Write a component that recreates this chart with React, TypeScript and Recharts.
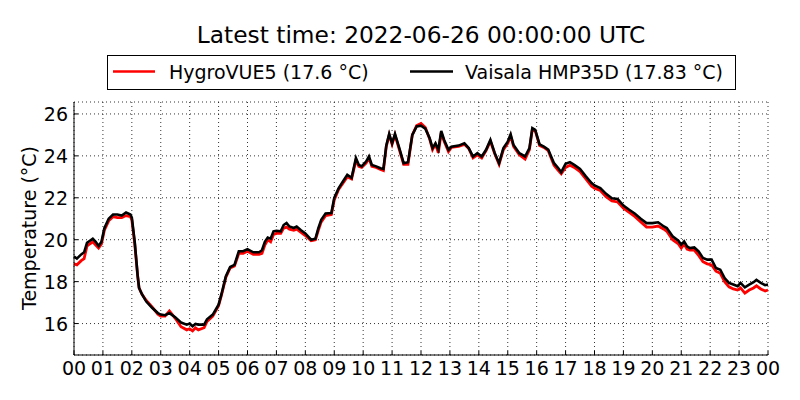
import { CartesianGrid, Line, LineChart, XAxis, YAxis } from "recharts";

// hours since 00 UTC
const hours = [
  0.0, 0.1, 0.25, 0.35, 0.45, 0.5, 0.65, 0.75, 0.85, 0.95,
  1.05, 1.2, 1.35, 1.5, 1.65, 1.8, 1.95, 2.0, 2.1, 2.2,
  2.25, 2.35, 2.5, 2.7, 2.9, 3.0, 3.15, 3.3, 3.5, 3.7,
  3.9, 4.0, 4.1, 4.2, 4.3, 4.5, 4.6, 4.8, 5.0, 5.1,
  5.25, 5.4, 5.55, 5.7, 5.85, 6.0, 6.2, 6.4, 6.5, 6.6,
  6.7, 6.8, 6.9, 7.0, 7.15, 7.25, 7.35, 7.45, 7.6, 7.7,
  7.85, 8.0, 8.2, 8.35, 8.45, 8.55, 8.7, 8.9, 9.0, 9.15,
  9.3, 9.45, 9.6, 9.75, 9.85, 9.95, 10.1, 10.2, 10.3, 10.45,
  10.6, 10.7, 10.8, 10.9, 11.0, 11.1, 11.25, 11.4, 11.55, 11.7,
  11.85, 12.0, 12.15, 12.3, 12.4, 12.5, 12.6, 12.7, 12.8, 12.95,
  13.05, 13.3, 13.5, 13.65, 13.8, 13.95, 14.1, 14.25, 14.4, 14.55,
  14.7, 14.85, 15.0, 15.1, 15.2, 15.4, 15.6, 15.75, 15.85, 15.95,
  16.1, 16.25, 16.4, 16.5, 16.6, 16.75, 16.85, 17.0, 17.15, 17.3,
  17.5, 17.7, 17.9, 18.0, 18.2, 18.4, 18.6, 18.8, 19.0, 19.2,
  19.4, 19.6, 19.8, 20.0, 20.2, 20.4, 20.5, 20.7, 20.9, 21.0,
  21.1, 21.2, 21.3, 21.45, 21.6, 21.75, 21.9, 22.05, 22.2, 22.35,
  22.5, 22.65, 22.8, 22.95, 23.05, 23.2, 23.35, 23.5, 23.6, 23.75,
  23.9, 24.0,
];

const hygroVUE5 = [
  18.85, 18.8, 19.0, 19.1, 19.7, 19.75, 19.9, 19.75, 19.6, 19.8,
  20.45, 20.9, 21.1, 21.05, 21.05, 21.15, 21.1, 20.95, 19.8, 18.3,
  17.7, 17.4, 17.1, 16.8, 16.45, 16.35, 16.35, 16.6, 16.25, 15.85,
  15.7, 15.75, 15.65, 15.8, 15.7, 15.8, 16.1, 16.35, 16.85, 17.35,
  18.2, 18.65, 18.75, 19.35, 19.35, 19.45, 19.3, 19.3, 19.35, 19.75,
  20.0, 19.9, 20.25, 20.3, 20.3, 20.55, 20.6, 20.5, 20.45, 20.5,
  20.35, 20.2, 19.95, 20.0, 20.45, 20.85, 21.15, 21.2, 21.9, 22.4,
  22.7, 23.0, 22.9, 23.8, 23.5, 23.45, 23.65, 23.9, 23.5, 23.45,
  23.35, 23.3, 24.45, 25.0, 24.55, 25.0, 24.3, 23.6, 23.6, 25.0,
  25.45, 25.55, 25.35, 24.8, 24.3, 24.55, 24.15, 25.1, 24.7, 24.2,
  24.4, 24.45, 24.55, 24.35, 23.9, 24.05, 23.9, 24.25, 24.7, 24.1,
  23.6, 24.3, 24.6, 24.95, 24.45, 24.05, 23.85, 24.3, 25.25, 25.2,
  24.5, 24.4, 24.25, 23.9, 23.55, 23.3, 23.15, 23.45, 23.55, 23.45,
  23.25, 22.9, 22.55, 22.45, 22.35, 22.05, 21.85, 21.8, 21.5, 21.3,
  21.1, 20.85, 20.6, 20.6, 20.65, 20.5, 20.4, 20.0, 19.8, 19.6,
  19.8, 19.55, 19.5, 19.5, 19.25, 18.95, 18.85, 18.8, 18.5, 18.4,
  18.0, 17.75, 17.65, 17.6, 17.7, 17.45, 17.6, 17.7, 17.8, 17.65,
  17.55, 17.6,
];

const vaisalaHMP35D = [
  19.2, 19.1, 19.3, 19.4, 19.85, 19.9, 20.05, 19.9, 19.7, 19.9,
  20.55, 21.0, 21.2, 21.2, 21.15, 21.3, 21.2, 21.05, 19.9, 18.3,
  17.7, 17.4, 17.05, 16.75, 16.5, 16.43, 16.4, 16.5, 16.3, 16.05,
  15.95, 16.0, 15.87, 15.98, 15.95, 15.95, 16.2, 16.43, 16.9, 17.4,
  18.25, 18.7, 18.8, 19.45, 19.45, 19.55, 19.4, 19.4, 19.5, 19.9,
  20.1, 20.05, 20.4, 20.43, 20.4, 20.7, 20.8, 20.63, 20.56, 20.63,
  20.45, 20.3, 20.0, 20.05, 20.55, 20.95, 21.25, 21.27, 22.0, 22.45,
  22.78, 23.1, 22.95, 23.9, 23.57, 23.5, 23.73, 23.97, 23.57, 23.5,
  23.41, 23.38, 24.5, 25.05, 24.6, 25.05, 24.37, 23.65, 23.7, 25.0,
  25.4, 25.44, 25.3, 24.84, 24.37, 24.6, 24.29, 25.19, 24.76, 24.29,
  24.44, 24.49, 24.6, 24.37, 23.97, 24.13, 23.97, 24.29, 24.76, 24.13,
  23.65, 24.37, 24.68, 25.03, 24.52, 24.13, 23.97, 24.37, 25.32, 25.24,
  24.55, 24.44, 24.3, 23.97, 23.65, 23.41, 23.22, 23.62, 23.7, 23.57,
  23.38, 23.02, 22.7, 22.59, 22.46, 22.19, 21.98, 21.94, 21.63, 21.43,
  21.24, 21.0, 20.79, 20.79, 20.83, 20.63, 20.56, 20.16, 19.95, 19.76,
  19.92, 19.68, 19.6, 19.63, 19.44, 19.13, 19.05, 19.05, 18.65, 18.57,
  18.17, 17.94, 17.86, 17.78, 17.94, 17.73, 17.86, 17.97, 18.08, 17.94,
  17.83, 17.86,
];

const hourTicks = [
  0, 1, 2, 3, 4, 5, 6, 7, 8, 9, 10, 11, 12,
  13, 14, 15, 16, 17, 18, 19, 20, 21, 22, 23, 24,
];
const hourLabels = [
  "00", "01", "02", "03", "04", "05", "06", "07", "08", "09", "10", "11", "12",
  "13", "14", "15", "16", "17", "18", "19", "20", "21", "22", "23", "00",
];
const tempTicks = [16, 18, 20, 22, 24, 26];

const title = "Latest time: 2022-06-26 00:00:00 UTC";
const seriesNames = ["HygroVUE5 (17.6 °C)", "Vaisala HMP35D (17.83 °C)"];

const rows = hours.map((h, i) => ({
  h,
  hygro: hygroVUE5[i],
  vaisala: vaisalaHMP35D[i],
}));

const FONT = "DejaVu Sans";

function BottomTick({ x, y, payload }: any) {
  const idx = hourTicks.indexOf(payload.value);
  return (
    <g>
      <line x1={x} x2={x} y1={y} y2={y - 4} stroke="#000" />
      <text x={x} y={y + 20} textAnchor="middle" fontSize={19} fontFamily={FONT} fill="#000">
        {hourLabels[idx]}
      </text>
    </g>
  );
}

function TopTick({ x, y }: any) {
  return <line x1={x} x2={x} y1={y} y2={y + 4} stroke="#000" />;
}

function LeftTick({ x, y, payload }: any) {
  return (
    <g>
      <line x1={x} x2={x + 4} y1={y} y2={y} stroke="#000" />
      <text x={x - 6} y={y + 7} textAnchor="end" fontSize={19} fontFamily={FONT} fill="#000">
        {payload.value}
      </text>
    </g>
  );
}

function RightTick({ x, y }: any) {
  return <line x1={x} x2={x - 4} y1={y} y2={y} stroke="#000" />;
}

export default function App() {
  return (
    <div style={{ position: "absolute", left: 0, top: 0, width: 800, height: 400, background: "#fff" }}>
      <LineChart
        width={800}
        height={400}
        data={rows}
        margin={{ top: 102, right: 32, bottom: 0, left: 0 }}
      >
        <CartesianGrid stroke="#000" strokeWidth={0.8} strokeDasharray="1 3" />
        <XAxis
          dataKey="h"
          type="number"
          domain={[0, 24]}
          ticks={hourTicks}
          interval={0}
          height={45}
          tickSize={0}
          tickMargin={0}
          axisLine={{ stroke: "#000" }}
          tick={<BottomTick />}
        />
        <XAxis
          xAxisId="t"
          dataKey="h"
          type="number"
          orientation="top"
          domain={[0, 24]}
          ticks={hourTicks}
          interval={0}
          height={0}
          tickSize={0}
          tickMargin={0}
          axisLine={{ stroke: "#000" }}
          tick={<TopTick />}
        />
        <YAxis
          type="number"
          domain={[14.5, 26.57]}
          ticks={tempTicks}
          interval={0}
          allowDataOverflow
          width={74}
          tickSize={0}
          tickMargin={0}
          axisLine={{ stroke: "#000" }}
          tick={<LeftTick />}
        />
        <YAxis
          yAxisId="r"
          type="number"
          orientation="right"
          domain={[14.5, 26.57]}
          ticks={tempTicks}
          interval={0}
          allowDataOverflow
          width={0}
          tickSize={0}
          tickMargin={0}
          axisLine={{ stroke: "#000" }}
          tick={<RightTick />}
        />
        <Line
          type="linear"
          dataKey="hygro"
          stroke="#ff0000"
          strokeWidth={2.8}
          dot={false}
          isAnimationActive={false}
        />
        <Line
          type="linear"
          dataKey="vaisala"
          stroke="#000000"
          strokeWidth={2.6}
          dot={false}
          isAnimationActive={false}
        />
      </LineChart>
      <svg
        width={800}
        height={400}
        style={{ position: "absolute", left: 0, top: 0, pointerEvents: "none" }}
        fontFamily={FONT}
      >
        <text x={421} y={43} textAnchor="middle" fontSize={23.3} fill="#000">
          {title}
        </text>
        <rect x={107.5} y={55.5} width={628} height={34} fill="#fff" stroke="#000" />
        <line x1={113} x2={155} y1={71.5} y2={71.5} stroke="#ff0000" strokeWidth={2.5} />
        <text x={169} y={78.5} fontSize={19} fill="#000">
          {seriesNames[0]}
        </text>
        <line x1={410} x2={453} y1={71.5} y2={71.5} stroke="#000" strokeWidth={2.5} />
        <text x={465} y={78.5} fontSize={19} fill="#000">
          {seriesNames[1]}
        </text>
        <text
          transform="translate(36,228) rotate(-90)"
          textAnchor="middle"
          fontSize={19}
          fill="#000"
        >
          Temperature (°C)
        </text>
      </svg>
    </div>
  );
}
